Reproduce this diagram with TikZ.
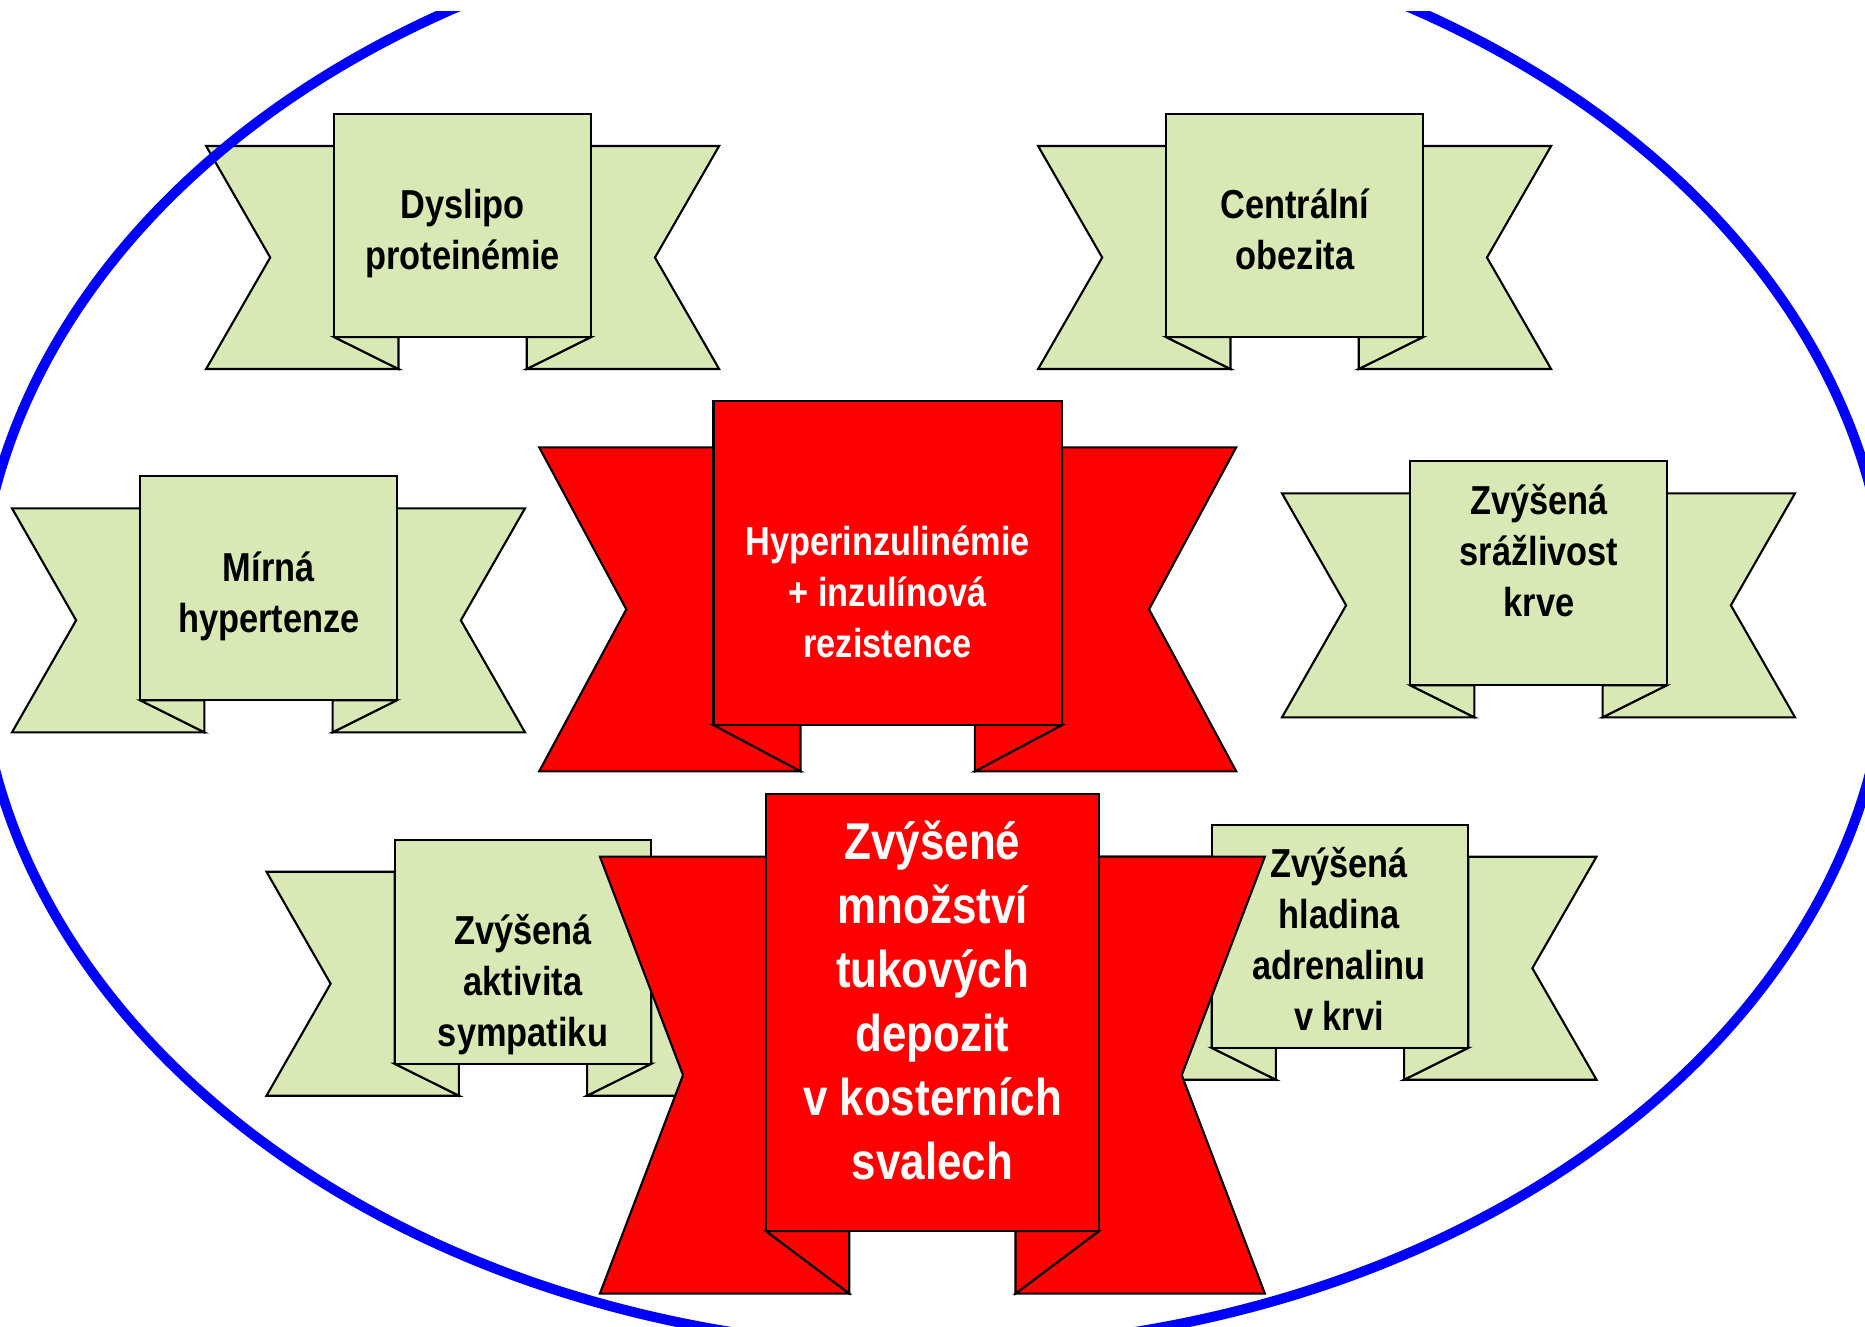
\documentclass[tikz,border=0pt]{standalone}
\usepackage{fontspec}
\newfontfamily\ribbonfont{Liberation Sans}[FakeStretch=0.85]
\definecolor{ribbongreen}{RGB}{216,233,181}
\definecolor{ribbonred}{RGB}{255,0,0}
\definecolor{ringblue}{RGB}{0,0,255}
\tikzset{
  ribbonline/.style={draw=black,line width=0.6pt,line join=miter},
  greentext/.style={align=center,text=black,font=\ribbonfont\bfseries\fontsize{11.5}{14.5}\selectfont},
  redtext/.style={align=center,text=white,font=\ribbonfont\bfseries\fontsize{11.5}{14.5}\selectfont},
  bigtext/.style={align=center,text=white,font=\ribbonfont\bfseries\fontsize{14.7}{18.2}\selectfont}
}
% #1 centre x, #2 top of wings, #3 width, #4 height of wings, #5 fill
\newcommand{\ribbon}[5]{%
  \filldraw[ribbonline,fill=#5] ({#1-#3/2},#2) -- ({#1-#3/4},#2) -- ({#1-#3/4},{#2+#4*6/7}) -- ({#1-#3/8},{#2+#4}) -- ({#1-#3/2},{#2+#4}) -- ({#1-#3*3/8},{#2+#4/2}) -- cycle;
  \filldraw[ribbonline,fill=#5] ({#1+#3/2},#2) -- ({#1+#3/4},#2) -- ({#1+#3/4},{#2+#4*6/7}) -- ({#1+#3/8},{#2+#4}) -- ({#1+#3/2},{#2+#4}) -- ({#1+#3*3/8},{#2+#4/2}) -- cycle;
  \filldraw[ribbonline,fill=#5] ({#1-#3/4},{#2+#4*6/7}) -- ({#1-#3/8},{#2+#4*6/7}) -- ({#1-#3/8},{#2+#4}) -- cycle;
  \filldraw[ribbonline,fill=#5] ({#1+#3/4},{#2+#4*6/7}) -- ({#1+#3/8},{#2+#4*6/7}) -- ({#1+#3/8},{#2+#4}) -- cycle;
  \filldraw[ribbonline,fill=#5] ({#1-#3/4},{#2-#4/7}) rectangle ({#1+#3/4},{#2+#4*6/7});
}
\begin{document}
\begin{tikzpicture}[x=0.01cm,y=-0.01cm]
\useasboundingbox (0,0) rectangle (1865,1326);

\ribbon{462.6}{146}{513}{223}{ribbongreen}
\node[greentext] (dyslipo) at (462.6,234) {Dyslipo\\proteinémie};
\ribbon{1294.6}{146}{513}{223}{ribbongreen}
\node[greentext] (obezita) at (1295,229) {Centrální\\obezita};
\ribbon{268.5}{508.3}{513}{224}{ribbongreen}
\node[greentext] (hypertenze) at (268.8,596) {Mírná\\hypertenze};
\ribbon{1538.5}{493.3}{513}{224}{ribbongreen}
\node[greentext] (srazlivost) at (1539,551) {Zvýšená\\srážlivost\\krve};

\ribbon{887.7}{447.3}{697}{324}{ribbonred}
\node[redtext] (inzulin) at (887.5,592) {Hyperinzulinémie\\+ inzulínová\\rezistence};

\ribbon{523}{871.7}{513}{224}{ribbongreen}
\node[greentext] (sympatikus) at (523,985) {Zvýšená\\aktivita\\sympatiku};
\ribbon{1340}{856.7}{513}{223}{ribbongreen}
\node[greentext] (adrenalin) at (1339,939) {Zvýšená\\hladina\\adrenalinu\\v krvi};

\ribbon{932.4}{856.6}{665}{437}{ribbonred}
\node[bigtext] (depozita) at (932.5,1000) {Zvýšené\\množství\\tukových\\depozit\\v kosterních\\svalech};

\begin{scope}
\clip (0,11) rectangle (1865,1326);
\draw[ringblue,line width=0.1cm] (933,630) ellipse [x radius=956,y radius=718];
\end{scope}
\end{tikzpicture}
\end{document}
